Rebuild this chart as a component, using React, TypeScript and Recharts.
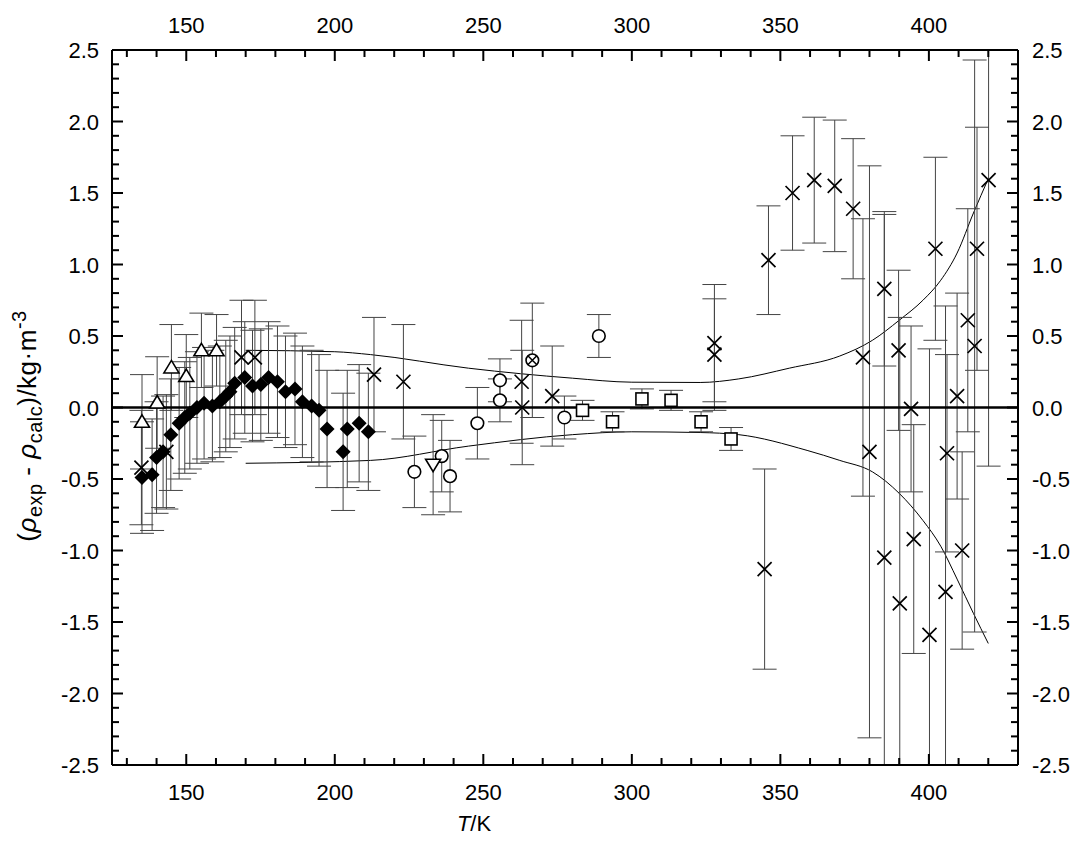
import { ComposedChart, Scatter, Line, XAxis, YAxis, ErrorBar, ReferenceLine } from 'recharts';

// tick positions / labels
const xTicks = [130, 140, 150, 160, 170, 180, 190, 200, 210, 220, 230, 240, 250, 260, 270, 280, 290, 300, 310, 320, 330, 340, 350, 360, 370, 380, 390, 400, 410, 420, 430];
const xLabels = [150, 200, 250, 300, 350, 400];
const yLabels = ['-2.5', '-2.0', '-1.5', '-1.0', '-0.5', '0.0', '0.5', '1.0', '1.5', '2.0', '2.5'];
const yTicks: number[] = [];
for (let i = -25; i <= 25; i++) yTicks.push(i / 10);

// [T, deviation, uncertainty]
const diamonds = [
  [135.1, -0.49, 0.39], [138.5, -0.47, 0.39], [140.0, -0.35, 0.39], [142.2, -0.31, 0.39], [144.8, -0.19, 0.39],
  [147.6, -0.11, 0.39], [149.5, -0.07, 0.39], [151.2, -0.04, 0.39], [153.6, 0.0, 0.39], [156.0, 0.03, 0.39],
  [158.8, 0.01, 0.39], [161.3, 0.04, 0.39], [163.3, 0.08, 0.39], [164.7, 0.11, 0.39], [166.3, 0.17, 0.39],
  [169.7, 0.21, 0.39], [172.3, 0.15, 0.39], [175.1, 0.16, 0.39], [177.7, 0.21, 0.39], [180.7, 0.18, 0.39],
  [183.4, 0.11, 0.39], [186.6, 0.13, 0.39], [189.1, 0.04, 0.39], [192.2, 0.01, 0.39], [194.7, -0.02, 0.39],
  [197.4, -0.15, 0.41], [202.8, -0.31, 0.41], [204.2, -0.15, 0.41], [208.2, -0.11, 0.41], [211.3, -0.17, 0.41],
];
const trianglesUp = [
  [135.1, -0.10, 0.33], [140.2, 0.035, 0.32], [145.0, 0.28, 0.30], [150.0, 0.22, 0.29], [155.1, 0.40, 0.26], [160.2, 0.40, 0.25],
];
const crosses = [
  [134.9, -0.42, 0.40], [143.3, -0.31, 0.40], [168.6, 0.35, 0.40], [173.1, 0.35, 0.40], [213.2, 0.23, 0.40],
  [223.1, 0.18, 0.40], [262.9, 0.18, 0.43], [263.1, 0.0, 0.40], [273.2, 0.08, 0.35], [327.8, 0.45, 0.41],
  [327.8, 0.37, 0.39], [344.7, -1.13, 0.70], [346.0, 1.03, 0.38], [354.1, 1.50, 0.40], [361.4, 1.59, 0.44],
  [368.3, 1.55, 0.46], [374.5, 1.39, 0.49], [377.8, 0.35, 0.97], [380.0, -0.31, 2.0], [385.0, 0.83, 0.54],
  [385.0, -1.05, 2.4], [389.8, 0.40, 0.56], [390.2, -1.37, 2.0], [394.0, -0.01, 0.58], [394.9, -0.92, 0.80],
  [400.2, -1.59, 2.0], [402.2, 1.11, 0.64], [405.6, -1.29, 2.0], [406.1, -0.32, 0.69], [409.5, 0.08, 0.72],
  [411.2, -1.00, 0.69], [413.1, 0.61, 0.78], [415.4, 0.43, 2.0], [416.2, 1.11, 0.85], [420.1, 1.59, 2.0],
];
const circles = [
  [226.8, -0.45, 0.25], [236.0, -0.34, 0.25], [238.8, -0.48, 0.25], [248.0, -0.11, 0.25],
  [255.6, 0.19, 0.15], [255.6, 0.05, 0.15], [277.3, -0.07, 0.15], [288.9, 0.50, 0.15],
];
const circleCross = [[266.5, 0.33, 0.40]];
const trianglesDown = [[233.1, -0.40, 0.35]];
const squares = [
  [283.4, -0.02, 0.07], [293.5, -0.10, 0.07], [303.4, 0.06, 0.07], [313.2, 0.05, 0.07], [323.3, -0.10, 0.07], [333.4, -0.22, 0.08],
];
// [T, bound]
const upperBound = [
  [170, 0.40], [200, 0.39], [212, 0.37], [245, 0.275], [280, 0.205], [300, 0.177], [323, 0.175], [336, 0.20],
  [353, 0.275], [370, 0.36], [381, 0.47], [390, 0.61], [398, 0.75], [404, 0.89], [409.5, 1.08], [415, 1.36], [420, 1.60],
];
const lowerBound = [
  [170, -0.39], [212, -0.37], [245, -0.27], [280, -0.19], [300, -0.17], [323, -0.175], [336, -0.19], [359, -0.30],
  [370, -0.37], [381, -0.45], [390, -0.60], [398, -0.79], [404, -0.97], [409.5, -1.20], [415, -1.44], [420, -1.65],
];

const pts = (a: number[][]) => a.map(([T, y, err]) => ({ T, y, err }));
const crv = (a: number[][]) => a.map(([T, y]) => ({ T, y }));

const FONT = '"Liberation Sans", Arial, Helvetica, sans-serif';
const FS = 22;

const Diamond = ({ cx, cy }: any) => (
  <polygon points={`${cx},${cy - 7.5} ${cx + 7.5},${cy} ${cx},${cy + 7.5} ${cx - 7.5},${cy}`} fill="#000" />
);
const TriUp = ({ cx, cy }: any) => (
  <polygon points={`${cx},${cy - 7} ${cx + 7.5},${cy + 5.5} ${cx - 7.5},${cy + 5.5}`} fill="#fff" stroke="#000" strokeWidth={1.6} />
);
const TriDown = ({ cx, cy }: any) => (
  <polygon points={`${cx},${cy + 7} ${cx + 7.5},${cy - 5.5} ${cx - 7.5},${cy - 5.5}`} fill="#fff" stroke="#000" strokeWidth={1.6} />
);
const Circ = ({ cx, cy }: any) => <circle cx={cx} cy={cy} r={6.3} fill="#fff" stroke="#000" strokeWidth={1.6} />;
const Sq = ({ cx, cy }: any) => <rect x={cx - 6} y={cy - 6} width={12} height={12} fill="#fff" stroke="#000" strokeWidth={1.6} />;
const Cross = ({ cx, cy }: any) => (
  <path d={`M${cx - 7},${cy - 7}L${cx + 7},${cy + 7}M${cx - 7},${cy + 7}L${cx + 7},${cy - 7}`} stroke="#000" strokeWidth={1.7} />
);
const CircX = ({ cx, cy }: any) => (
  <g>
    <circle cx={cx} cy={cy} r={6.3} fill="#fff" stroke="#000" strokeWidth={1.6} />
    <path d={`M${cx - 4.5},${cy - 4.5}L${cx + 4.5},${cy + 4.5}M${cx - 4.5},${cy + 4.5}L${cx + 4.5},${cy - 4.5}`} stroke="#000" strokeWidth={1.5} />
  </g>
);

const isMajorX = (v: number) => xLabels.includes(v);
const XTick = ({ x, y, payload, side }: any) => {
  const v = payload.value;
  const major = isMajorX(v);
  const len = major ? 11 : 7;
  const dir = side === 'top' ? 1 : -1;
  return (
    <g>
      <line x1={x} y1={y} x2={x} y2={y + dir * len} stroke="#000" strokeWidth={2} />
      {major && (
        <text x={x} y={side === 'top' ? y - 17 : y + 35} textAnchor="middle" fontFamily={FONT} fontSize={FS} fill="#000">
          {v}
        </text>
      )}
    </g>
  );
};
const YTick = ({ x, y, payload, side }: any) => {
  const i = Math.round(payload.value * 10);
  const major = i % 5 === 0;
  const len = major ? 11 : 7;
  const dir = side === 'left' ? 1 : -1;
  const label = yLabels[(i + 25) / 5];
  return (
    <g>
      <line x1={x} y1={y} x2={x + dir * len} y2={y} stroke="#000" strokeWidth={2} />
      {major && (
        <text x={side === 'left' ? x - 13 : x + 14} y={y + 8} textAnchor={side === 'left' ? 'end' : 'start'} fontFamily={FONT} fontSize={FS} fill="#000">
          {label}
        </text>
      )}
    </g>
  );
};

const series = [
  { data: diamonds, Shape: Diamond },
  { data: trianglesUp, Shape: TriUp },
  { data: circles, Shape: Circ },
  { data: trianglesDown, Shape: TriDown },
  { data: squares, Shape: Sq },
  { data: circleCross, Shape: CircX },
  { data: crosses, Shape: Cross },
];

export default function App() {
  return (
    <div style={{ position: 'absolute', left: 0, top: 0, width: 1077, height: 843, background: '#fff' }}>
      {/* error bars that run past the frame are cut at the plot edge */}
      <style>{'.recharts-errorBars{clip-path:url(#plotClip);}'}</style>
      <svg width={0} height={0} style={{ position: 'absolute' }}>
        <defs>
          <clipPath id="plotClip" clipPathUnits="userSpaceOnUse">
            <rect x={112} y={50} width={906} height={715} />
          </clipPath>
        </defs>
      </svg>
      <ComposedChart width={1077} height={843} margin={{ top: 10, right: 9, bottom: 38, left: 52 }}>
        <XAxis xAxisId="b" dataKey="T" type="number" domain={[125, 430]} allowDataOverflow ticks={xTicks} interval={0}
          tickSize={0} tickMargin={0} height={40} stroke="#000" strokeWidth={2} tickLine={false}
          tick={(p: any) => <XTick {...p} side="bottom" />} />
        <XAxis xAxisId="t" dataKey="T" type="number" orientation="top" domain={[125, 430]} allowDataOverflow ticks={xTicks} interval={0}
          tickSize={0} tickMargin={0} height={40} stroke="#000" strokeWidth={2} tickLine={false}
          tick={(p: any) => <XTick {...p} side="top" />} />
        <YAxis yAxisId="l" type="number" domain={[-2.5, 2.5]} allowDataOverflow ticks={yTicks} interval={0}
          tickSize={0} tickMargin={0} width={60} stroke="#000" strokeWidth={2} tickLine={false}
          tick={(p: any) => <YTick {...p} side="left" />} />
        <YAxis yAxisId="r" type="number" orientation="right" domain={[-2.5, 2.5]} allowDataOverflow ticks={yTicks} interval={0}
          tickSize={0} tickMargin={0} width={50} stroke="#000" strokeWidth={2} tickLine={false}
          tick={(p: any) => <YTick {...p} side="right" />} />
        <Line xAxisId="t" yAxisId="r" data={crv(upperBound)} dataKey="y" type="monotone" dot={false} stroke="#000" strokeWidth={1} isAnimationActive={false} />
        <Line xAxisId="t" yAxisId="r" data={crv(lowerBound)} dataKey="y" type="monotone" dot={false} stroke="#000" strokeWidth={1} isAnimationActive={false} />
        {series.map(({ data, Shape }, k) => (
          <Scatter key={k} xAxisId="b" yAxisId="l" data={pts(data)} dataKey="y" isAnimationActive={false}
            shape={(p: any) => <Shape cx={p.cx} cy={p.cy} />}>
            <ErrorBar dataKey="err" direction="y" width={12} stroke="#444" strokeWidth={1} />
          </Scatter>
        ))}
        <ReferenceLine xAxisId="t" yAxisId="r" y={0} stroke="#000" strokeWidth={2.5} />
      </ComposedChart>
      <svg width={1077} height={843} style={{ position: 'absolute', left: 0, top: 0, pointerEvents: 'none' }}>
        <text x={474} y={831} textAnchor="middle" fontFamily={FONT} fontSize={FS} fill="#000">
          <tspan fontStyle="italic">T</tspan>/K
        </text>
        <text transform="translate(36,426) rotate(-90)" textAnchor="middle" fontFamily={FONT} fontSize={26} letterSpacing={0.5} fill="#000">
          (<tspan fontStyle="italic">ρ</tspan>
          <tspan fontSize={20} dy={6}>exp</tspan>
          <tspan dy={-6}> - </tspan>
          <tspan fontStyle="italic">ρ</tspan>
          <tspan fontSize={20} dy={6}>calc</tspan>
          <tspan dy={-6}>)/kg·m</tspan>
          <tspan fontSize={20} dy={-10}>-3</tspan>
        </text>
      </svg>
    </div>
  );
}
